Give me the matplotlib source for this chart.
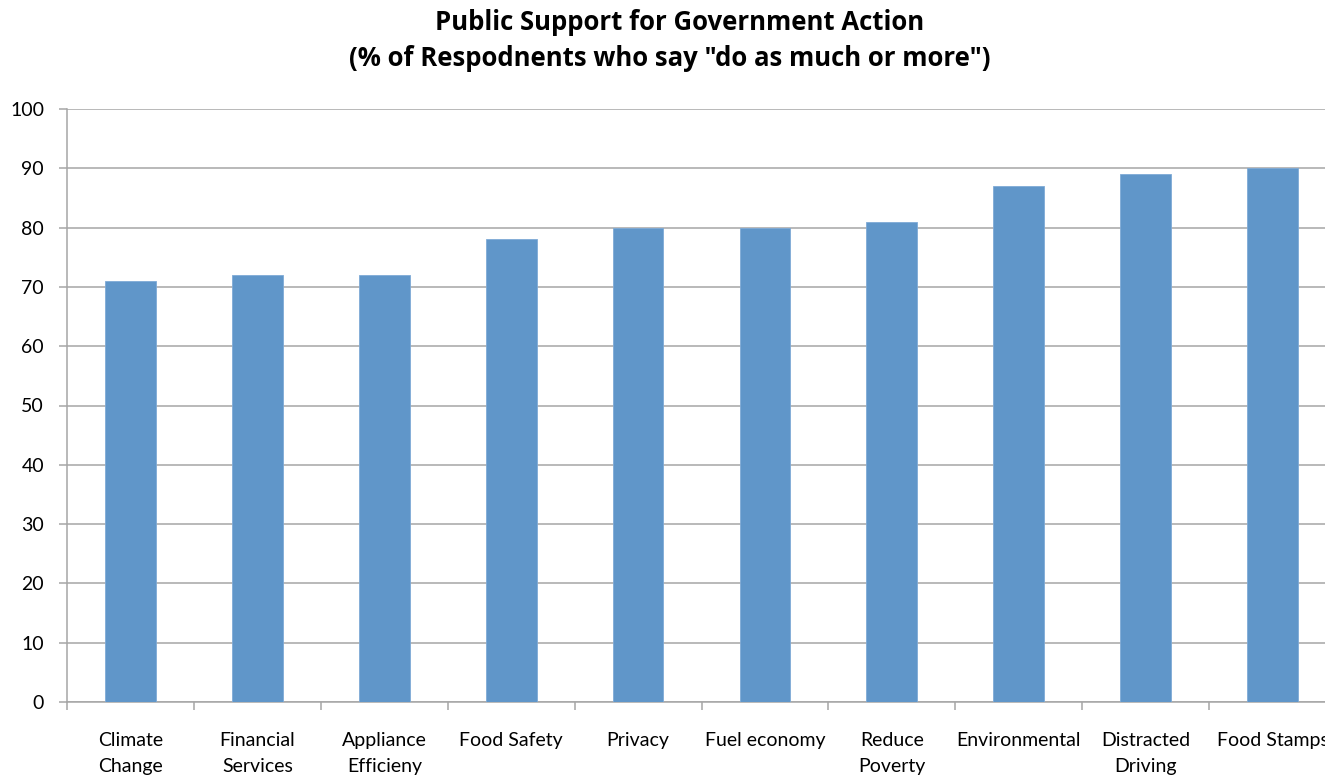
import numpy as np
import matplotlib
matplotlib.use("Agg")
import matplotlib.pyplot as plt

categories = ["Climate\nChange", "Financial\nServices", "Appliance\nEfficieny", "Food Safety",
              "Privacy", "Fuel economy", "Reduce\nPoverty", "Environmental",
              "Distracted\nDriving", "Food Stamps"]
support = [71, 72, 72, 78, 80, 80, 81, 87, 89, 90]
yticks = [0, 10, 20, 30, 40, 50, 60, 70, 80, 90, 100]

plt.rcParams['font.family'] = ['Lato', 'DejaVu Sans']

grey = '#A6A6A6'
bar_colour = '#6096C9'

fig = plt.figure(figsize=(13.25, 7.78), dpi=100)
# plot area runs slightly past the right edge, as in the exported sheet
ax = fig.add_axes([67 / 1325, 1 - 702 / 778, (1336 - 67) / 1325, (702 - 109) / 778])

x = np.arange(len(categories))
ax.bar(x, support, width=0.4, color=bar_colour, edgecolor='#7FAAD6', linewidth=0.6, zorder=3)

ax.set_xlim(-0.5, len(categories) - 0.5)
ax.set_ylim(0, 100)
ax.set_yticks(yticks)
ax.yaxis.grid(True, color=grey, linewidth=1.1, zorder=0)

# category boundaries carry the x ticks, labels sit in between
ax.set_xticks(np.arange(len(categories) + 1) - 0.5)
ax.set_xticklabels([])
ax.set_xticks(x, minor=True)
ax.set_xticklabels(categories, minor=True, fontsize=14, linespacing=1.68)
ax.tick_params(axis='x', which='minor', length=0, pad=21.5)
ax.tick_params(axis='x', which='major', length=6, width=1.1, color=grey, direction='out')
ax.tick_params(axis='y', length=6, width=1.1, color=grey, direction='out', pad=10.5, labelsize=14)

for side in ['top', 'right']:
    ax.spines[side].set_visible(False)
for side in ['left', 'bottom']:
    ax.spines[side].set_color(grey)
    ax.spines[side].set_linewidth(1.1)

title_font = dict(ha='center', va='center', fontsize=18.5, fontweight='bold', family=['Open Sans', 'DejaVu Sans'])
fig.text(680 / 1325, 1 - 22 / 778, 'Public Support for Government Action', **title_font)
fig.text(670 / 1325, 1 - 59 / 778, '(% of Respodnents who say "do as much or more")', **title_font)

fig.savefig('out.png', dpi=100)
